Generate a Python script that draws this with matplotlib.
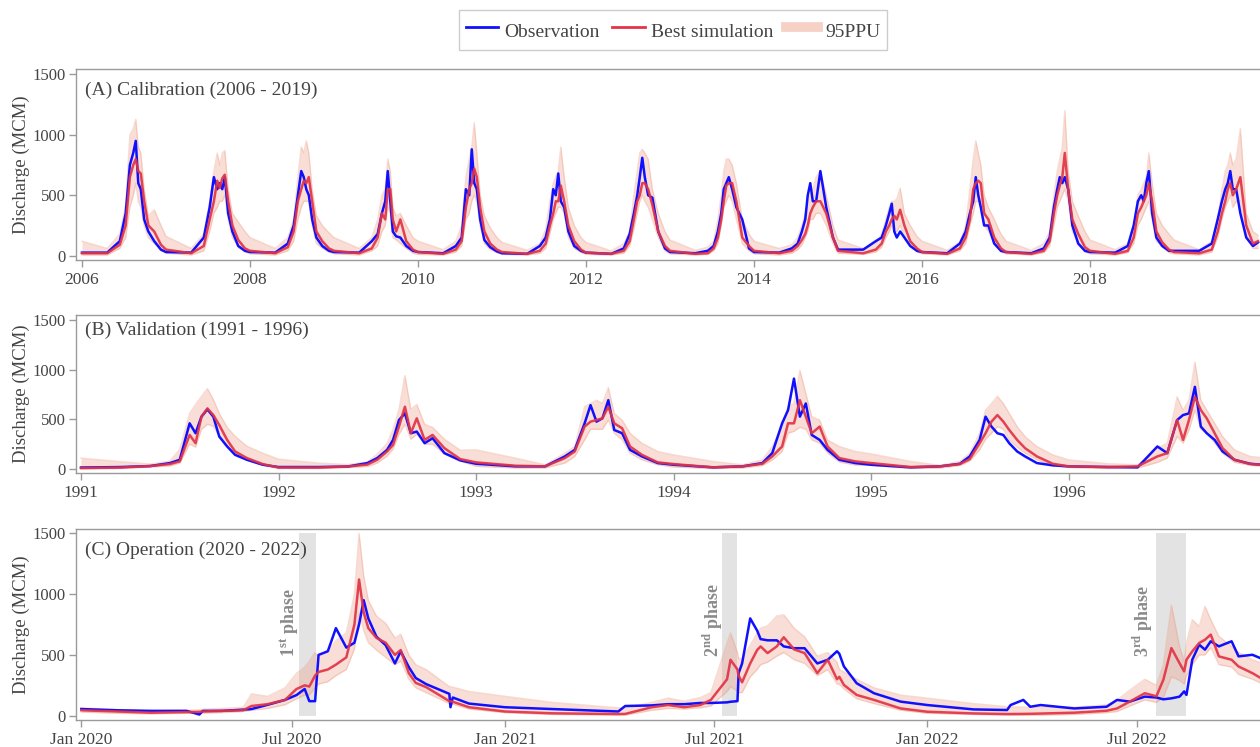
import numpy as np
import pandas as pd
import matplotlib
matplotlib.use("Agg")
import matplotlib.pyplot as plt
import matplotlib.dates as mdates
from matplotlib.lines import Line2D

plt.rcParams["font.family"] = ["Liberation Serif", "DejaVu Serif"]
plt.rcParams["mathtext.fontset"] = "custom"
plt.rcParams["mathtext.rm"] = "Liberation Serif"
plt.rcParams["mathtext.bf"] = "Liberation Serif:bold"

OBS_COLOR = "#1010ff"
SIM_COLOR = "#e23347"
PPU_COLOR = "#ec9a80"
TEXT = "#444444"
SPINE = "#9a9a9a"

# ---------------------------------------------------------------
# (A) Calibration 2006-2019, sampled at fixed fractions of each year
# ---------------------------------------------------------------
calib_years = list(range(2006, 2020))
calib_frac = [0.00, 0.30, 0.45, 0.52, 0.57, 0.61, 0.64, 0.67, 0.70, 0.74, 0.79, 0.86, 0.94]

calib_obs = [
    [25, 25, 120, 350, 750, 850, 950, 600, 550, 300, 200, 120, 50],
    [30, 25, 150, 400, 650, 550, 600, 550, 650, 350, 200, 80, 40],
    [30, 25, 100, 250, 500, 700, 650, 550, 500, 300, 150, 80, 40],
    [30, 25, 120, 180, 350, 450, 700, 450, 200, 160, 150, 80, 40],
    [30, 20, 80, 150, 550, 500, 880, 600, 550, 300, 130, 70, 35],
    [20, 15, 80, 150, 300, 550, 500, 680, 450, 400, 200, 80, 40],
    [25, 15, 60, 180, 350, 500, 650, 810, 650, 500, 480, 200, 60],
    [30, 20, 40, 80, 200, 350, 550, 600, 650, 550, 400, 300, 60],
    [30, 25, 60, 100, 200, 300, 500, 600, 450, 450, 700, 400, 150],
    [50, 50, 120, 150, 250, 350, 430, 200, 150, 200, 150, 80, 40],
    [30, 20, 100, 200, 350, 450, 650, 500, 400, 250, 250, 100, 40],
    [30, 20, 60, 150, 400, 550, 650, 600, 650, 550, 250, 100, 40],
    [30, 25, 80, 250, 450, 500, 450, 600, 700, 350, 150, 80, 40],
    [40, 40, 100, 300, 450, 550, 600, 700, 550, 550, 350, 150, 80],
]
calib_sim = [
    [20, 20, 90, 250, 650, 750, 800, 700, 680, 450, 250, 200, 90],
    [50, 20, 80, 300, 450, 620, 560, 640, 670, 450, 250, 130, 60],
    [40, 20, 70, 200, 450, 550, 620, 600, 650, 450, 200, 120, 60],
    [40, 20, 60, 150, 350, 300, 550, 550, 300, 200, 300, 120, 50],
    [30, 15, 50, 120, 400, 550, 600, 720, 650, 400, 200, 100, 50],
    [30, 15, 40, 100, 250, 350, 450, 450, 580, 450, 250, 120, 50],
    [25, 15, 40, 120, 300, 450, 500, 600, 600, 550, 420, 200, 80],
    [40, 15, 20, 60, 150, 300, 450, 580, 600, 600, 450, 150, 80],
    [40, 20, 40, 80, 130, 180, 250, 350, 400, 450, 450, 350, 150],
    [40, 20, 50, 100, 200, 250, 300, 330, 300, 380, 250, 120, 60],
    [30, 15, 60, 150, 300, 550, 600, 620, 600, 350, 300, 150, 60],
    [30, 15, 40, 120, 350, 500, 580, 650, 850, 550, 300, 180, 70],
    [40, 15, 40, 150, 350, 400, 450, 500, 600, 450, 200, 110, 50],
    [30, 20, 50, 200, 350, 450, 550, 600, 500, 550, 650, 250, 100],
]
calib_lo = [
    [5, 5, 60, 150, 400, 500, 600, 450, 400, 250, 150, 100, 40],
    [20, 5, 40, 200, 350, 400, 450, 450, 500, 300, 150, 70, 30],
    [15, 5, 40, 120, 300, 400, 450, 450, 450, 250, 100, 60, 30],
    [15, 5, 40, 80, 200, 250, 400, 350, 150, 130, 100, 60, 20],
    [10, 5, 30, 80, 300, 350, 450, 500, 450, 250, 100, 50, 25],
    [10, 5, 20, 60, 180, 300, 350, 400, 400, 350, 150, 60, 25],
    [10, 5, 20, 80, 220, 350, 450, 500, 450, 400, 300, 150, 40],
    [15, 5, 10, 40, 100, 250, 400, 450, 500, 450, 300, 100, 40],
    [15, 5, 20, 50, 90, 150, 200, 300, 300, 350, 350, 250, 100],
    [20, 10, 30, 70, 150, 200, 250, 200, 200, 250, 150, 80, 30],
    [15, 5, 40, 100, 250, 350, 450, 450, 400, 250, 200, 100, 30],
    [15, 5, 25, 80, 250, 400, 450, 500, 550, 450, 200, 100, 30],
    [15, 5, 25, 100, 250, 300, 350, 400, 450, 300, 120, 70, 25],
    [15, 5, 30, 150, 300, 400, 450, 500, 400, 450, 450, 150, 60],
]
calib_hi = [
    [120, 60, 180, 420, 1000, 1050, 1130, 900, 850, 550, 330, 380, 250],
    [160, 60, 180, 450, 700, 850, 750, 850, 870, 550, 350, 280, 200],
    [150, 60, 150, 300, 650, 900, 850, 950, 850, 550, 330, 250, 190],
    [150, 60, 150, 300, 500, 550, 800, 700, 400, 330, 350, 250, 150],
    [120, 50, 120, 250, 650, 800, 900, 1100, 850, 500, 330, 230, 150],
    [110, 45, 100, 220, 450, 600, 650, 700, 900, 650, 400, 250, 150],
    [110, 40, 100, 200, 500, 700, 850, 880, 850, 800, 550, 350, 200],
    [130, 45, 70, 120, 300, 500, 700, 800, 800, 750, 600, 300, 180],
    [120, 60, 90, 150, 250, 350, 400, 500, 550, 650, 700, 500, 250],
    [130, 60, 100, 180, 300, 400, 450, 450, 470, 560, 350, 250, 160],
    [120, 45, 110, 250, 550, 800, 950, 850, 750, 500, 400, 300, 180],
    [120, 45, 100, 200, 500, 700, 800, 900, 1200, 700, 450, 330, 200],
    [130, 50, 100, 250, 500, 550, 600, 650, 850, 600, 350, 250, 180],
    [130, 50, 120, 300, 550, 700, 750, 850, 750, 800, 1050, 350, 200],
]
# value on 1 Jan 2020: obs, sim, lower, upper
calib_last = [110, 120, 60, 170]

# ---------------------------------------------------------------
# (B) Validation 1991-1996
# ---------------------------------------------------------------
valid_years = list(range(1991, 1997))
valid_frac = [0.00, 0.20, 0.35, 0.45, 0.50, 0.55, 0.58, 0.61, 0.64, 0.67, 0.70, 0.74, 0.78, 0.84, 0.92]

valid_obs = [
    [15, 20, 30, 60, 93, 460, 360, 527, 600, 527, 327, 227, 143, 93, 43],
    [20, 20, 25, 60, 110, 193, 293, 493, 560, 360, 377, 260, 310, 160, 87],
    [53, 27, 27, 127, 193, 460, 643, 477, 510, 693, 393, 360, 193, 127, 60],
    [43, 17, 27, 60, 160, 460, 593, 910, 527, 660, 343, 293, 193, 93, 60],
    [43, 17, 27, 53, 127, 293, 527, 427, 360, 343, 260, 177, 127, 60, 37],
    [27, 20, 17, 227, 160, 493, 543, 560, 827, 427, 360, 293, 177, 93, 53],
]
valid_sim = [
    [10, 15, 30, 50, 77, 343, 260, 527, 610, 543, 443, 293, 177, 110, 50],
    [15, 15, 25, 45, 93, 177, 243, 427, 627, 360, 510, 293, 343, 210, 100],
    [67, 33, 27, 110, 177, 427, 477, 493, 510, 627, 460, 410, 227, 143, 67],
    [50, 17, 27, 53, 127, 227, 460, 460, 693, 527, 360, 427, 227, 110, 77],
    [60, 20, 27, 50, 100, 260, 360, 477, 543, 477, 393, 293, 210, 127, 53],
    [27, 20, 27, 127, 160, 493, 293, 493, 727, 593, 510, 360, 210, 93, 50],
]
valid_lo = [
    [0, 5, 20, 30, 60, 250, 220, 400, 450, 430, 330, 230, 150, 90, 40],
    [5, 5, 15, 25, 60, 130, 200, 350, 450, 300, 350, 250, 250, 150, 80],
    [27, 10, 10, 60, 127, 293, 400, 400, 400, 493, 360, 293, 160, 93, 43],
    [20, 5, 10, 35, 90, 177, 360, 380, 420, 400, 293, 260, 160, 70, 40],
    [37, 5, 10, 35, 80, 193, 300, 360, 427, 400, 293, 220, 160, 93, 33],
    [15, 5, 10, 67, 110, 327, 260, 393, 593, 400, 360, 260, 160, 67, 37],
]
valid_hi = [
    [110, 75, 50, 80, 200, 560, 650, 730, 810, 700, 560, 420, 330, 230, 160],
    [100, 60, 45, 70, 150, 260, 400, 600, 940, 600, 650, 450, 420, 300, 190],
    [193, 110, 43, 160, 227, 627, 660, 693, 660, 820, 560, 493, 360, 260, 177],
    [143, 77, 43, 93, 227, 427, 627, 660, 993, 760, 527, 493, 293, 227, 177],
    [153, 77, 37, 77, 160, 360, 593, 660, 733, 660, 560, 427, 327, 227, 143],
    [93, 53, 43, 210, 260, 727, 593, 693, 1077, 693, 593, 460, 327, 193, 127],
]
valid_last = [40, 40, 25, 110]

# ---------------------------------------------------------------
# (C) Operation 2020-2022
# ---------------------------------------------------------------
oper_dates = [
    "2020-01-01", "2020-02-01", "2020-03-01", "2020-04-01", "2020-04-12", "2020-04-15",
    "2020-05-01", "2020-05-20", "2020-05-27", "2020-06-10", "2020-06-25", "2020-07-05",
    "2020-07-12", "2020-07-16", "2020-07-21", "2020-07-24", "2020-08-01", "2020-08-08",
    "2020-08-17", "2020-08-24", "2020-08-28", "2020-09-01", "2020-09-05", "2020-09-12",
    "2020-09-20", "2020-09-28", "2020-10-03", "2020-10-10", "2020-10-16", "2020-10-25",
    "2020-11-14", "2020-11-15", "2020-11-17", "2020-12-01", "2021-01-01", "2021-02-11",
    "2021-04-09", "2021-04-15", "2021-05-08", "2021-05-22", "2021-06-05", "2021-06-19",
    "2021-06-28", "2021-07-12", "2021-07-15", "2021-07-21", "2021-07-22", "2021-07-25",
    "2021-08-01", "2021-08-07", "2021-08-10", "2021-08-16", "2021-08-24", "2021-08-30",
    "2021-09-08", "2021-09-17", "2021-09-28", "2021-10-07", "2021-10-15", "2021-10-17",
    "2021-10-21", "2021-11-01", "2021-11-16", "2021-12-09", "2022-01-01", "2022-02-10",
    "2022-03-11", "2022-03-14", "2022-03-25", "2022-03-31", "2022-04-09", "2022-05-08",
    "2022-06-05", "2022-06-14", "2022-06-25", "2022-07-08", "2022-07-18", "2022-07-24",
    "2022-07-31", "2022-08-07", "2022-08-11", "2022-08-13", "2022-08-18", "2022-08-24",
    "2022-08-29", "2022-09-03", "2022-09-10", "2022-09-21", "2022-09-27", "2022-10-09",
    "2022-10-18",
]
oper_obs = [
    55, 45, 40, 40, 10, 40, 40, 50, 55, 90, 130, 170,
    220, 120, 120, 500, 530, 720, 560, 600, 750, 950, 800, 650,
    580, 430, 530, 400, 310, 260, 180, 70, 150, 100, 70, 55,
    35, 80, 85, 95, 95, 105, 105, 110, 115, 120, 350, 430,
    800, 700, 630, 620, 620, 570, 555, 555, 430, 460, 530, 510,
    405, 267, 185, 116, 88, 52, 47, 88, 130, 74, 88, 60,
    74, 130, 116, 157, 150, 135, 143, 157, 200, 171, 460, 584,
    543, 612, 570, 612, 488, 501, 465,
]
oper_sim = [
    45, 35, 25, 30, 32, 35, 40, 45, 80, 95, 130, 220,
    250, 240, 330, 360, 380, 420, 480, 750, 1120, 850, 720, 640,
    600, 500, 540, 350, 270, 235, 120, 118, 115, 70, 35, 20,
    14, 15, 70, 88, 70, 88, 130, 300, 460, 380, 330, 275,
    430, 540, 570, 515, 570, 645, 545, 515, 350, 460, 300, 320,
    253, 171, 130, 60, 33, 19, 14, 14, 15, 16, 18, 25,
    41, 60, 116, 185, 160, 295, 556, 432, 364, 460, 529, 598,
    625, 667, 488, 460, 405, 350, 300,
]
oper_lo = [
    30, 20, 15, 20, 20, 22, 25, 35, 45, 60, 90, 140,
    170, 170, 230, 260, 280, 330, 380, 550, 850, 700, 600, 540,
    480, 420, 450, 300, 230, 190, 100, 100, 95, 55, 25, 10,
    5, 5, 45, 60, 55, 65, 80, 200, 240, 200, 190, 190,
    320, 380, 420, 440, 490, 520, 460, 430, 330, 380, 260, 260,
    220, 140, 100, 45, 20, 10, 5, 5, 5, 5, 5, 10,
    25, 35, 80, 130, 110, 150, 320, 290, 260, 330, 420, 500,
    500, 560, 420, 400, 340, 300, 260,
]
oper_hi = [
    65, 50, 40, 45, 50, 55, 60, 70, 180, 160, 230, 350,
    400, 450, 520, 480, 520, 620, 680, 1000, 1500, 1150, 950, 820,
    760, 640, 670, 500, 420, 380, 240, 240, 235, 200, 160, 110,
    65, 65, 110, 145, 120, 150, 190, 600, 680, 520, 470, 470,
    580, 680, 720, 740, 820, 830, 720, 650, 490, 520, 440, 380,
    360, 300, 230, 170, 145, 100, 75, 75, 70, 70, 70, 70,
    90, 130, 210, 300, 250, 420, 910, 570, 450, 600, 790, 735,
    900, 790, 653, 570, 520, 460, 430,
]

# operation phases shaded in panel C (start, end) and their labels
phase_spans = [("2020-07-07", "2020-07-22"), ("2021-07-08", "2021-07-21"), ("2022-07-18", "2022-08-13")]
phase_label_dates = ["2020-06-29", "2021-06-30", "2022-07-06"]
phase_labels = [r"1$^{\mathbf{st}}$ phase", r"2$^{\mathbf{nd}}$ phase", r"3$^{\mathbf{rd}}$ phase"]

panel_titles = ["(A) Calibration (2006 - 2019)", "(B) Validation (1991 - 1996)",
                "(C) Operation (2020 - 2022)"]


def build_series(years, frac, rows, last):
    t = np.array([y + f for y in years for f in frac] + [years[-1] + 1.0])
    out = []
    for k in range(4):
        out.append(np.concatenate([np.ravel(rows[k]), [last[k]]]))
    return t, out


def draw_panel(ax, t, obs, sim, lo, hi):
    ax.fill_between(t, lo, hi, color=PPU_COLOR, alpha=0.32, lw=0, zorder=1)
    ax.plot(t, hi, color=PPU_COLOR, alpha=0.35, lw=1.0, zorder=1)
    ax.plot(t, lo, color=PPU_COLOR, alpha=0.35, lw=1.0, zorder=1)
    ax.plot(t, obs, color=OBS_COLOR, lw=1.8, zorder=3)
    ax.plot(t, sim, color=SIM_COLOR, lw=1.8, alpha=0.92, zorder=4)


def style_axes(ax, title, title_y):
    for side in ["top", "bottom", "left", "right"]:
        ax.spines[side].set_color(SPINE)
        ax.spines[side].set_linewidth(1.0)
    ax.tick_params(direction="out", length=5, width=1, color=SPINE,
                   labelcolor=TEXT, labelsize=12.5, right=False, top=False)
    ax.tick_params(axis="y", labelsize=12, pad=2.5)
    ax.set_yticks([0, 500, 1000, 1500])
    ax.set_ylabel("Discharge (MCM)", fontsize=13.5, color=TEXT)
    ax.yaxis.set_label_coords(-0.0385, 0.5)
    ax.text(0.0075, title_y, title, transform=ax.transAxes, fontsize=14,
            color=TEXT, ha="left", va="center")


W, H = 1260, 747
fig = plt.figure(figsize=(W / 100, H / 100), dpi=100)


def axes_px(left, top, bottom, right=1264):
    return fig.add_axes([left / W, 1 - bottom / H, (right - left) / W, (bottom - top) / H])


# Panel A
axA = axes_px(76, 69, 260)
tA, (oA, sA, lA, hA) = build_series(calib_years, calib_frac,
                                    [calib_obs, calib_sim, calib_lo, calib_hi], calib_last)
draw_panel(axA, tA, oA, sA, lA, hA)
axA.set_xlim(2006 - 6 / 84, 2006 - 6 / 84 + 1188 / 84)
axA.set_ylim(-36, 1545)
axA.set_xticks(range(2006, 2020, 2))
style_axes(axA, panel_titles[0], 0.89)

# Panel B
axB = axes_px(76, 315, 473)
tB, (oB, sB, lB, hB) = build_series(valid_years, valid_frac,
                                    [valid_obs, valid_sim, valid_lo, valid_hi], valid_last)
draw_panel(axB, tB, oB, sB, lB, hB)
axB.set_xlim(1991 - 5 / 197.5, 1991 - 5 / 197.5 + 1188 / 197.5)
axB.set_ylim(-40, 1550)
axB.set_xticks(range(1991, 1997))
style_axes(axB, panel_titles[1], 0.905)

# Panel C
axC = axes_px(76, 529, 720)
tC = pd.to_datetime(oper_dates)
for (s, e) in phase_spans:
    axC.fill_between(pd.to_datetime([s, e]), 0, 1500, color="#e3e3e3", lw=0, zorder=0.5)
draw_panel(axC, tC, oper_obs, oper_sim, oper_lo, oper_hi)
for d, lab in zip(phase_label_dates, phase_labels):
    axC.text(pd.Timestamp(d), 480, lab, rotation=90, ha="center", va="bottom",
             fontsize=13, fontweight="bold", color="#8a8a8a", zorder=5)
x0 = pd.Timestamp("2020-01-01")
axC.set_xlim(x0 - pd.Timedelta(days=4.6), x0 + pd.Timedelta(days=1022))
axC.set_ylim(-35, 1535)
axC.set_xticks(pd.to_datetime(["2020-01-01", "2020-07-01", "2021-01-01",
                               "2021-07-01", "2022-01-01", "2022-07-01"]))
axC.xaxis.set_major_formatter(mdates.DateFormatter("%b %Y"))
style_axes(axC, panel_titles[2], 0.89)

# shared legend
handles = [
    Line2D([], [], color=OBS_COLOR, lw=2),
    Line2D([], [], color=SIM_COLOR, lw=2),
    Line2D([], [], color=PPU_COLOR, alpha=0.45, lw=7),
]
fig.legend(handles, ["Observation", "Best simulation", "95PPU"], loc="upper center",
           bbox_to_anchor=(673 / W, 1 - 10 / H), ncol=3, fontsize=14, frameon=True,
           fancybox=False, edgecolor="#c0c0c0", handlelength=1.65, handletextpad=0.35,
           handleheight=1.75, columnspacing=0.65, borderpad=0.35, borderaxespad=0,
           labelcolor=TEXT)

fig.savefig("out.png", dpi=100)
